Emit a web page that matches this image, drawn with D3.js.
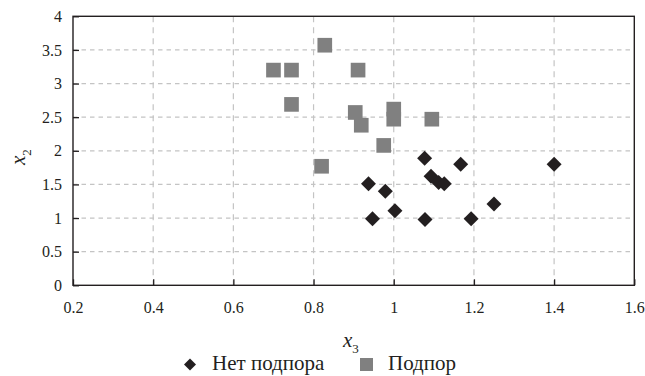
<!DOCTYPE html>
<html>
<head>
<meta charset="utf-8">
<script src="https://cdn.jsdelivr.net/npm/d3@7"></script>
</head>
<body style="margin:0">
<script>
var width = 645;
var height = 376;
var diamondColor = '#231f20';
var squareColor = '#808080';
var gridColor = '#c4c4c4';
var serif = 'Liberation Serif';

// data
var noBackwaterX = [1.077, 1.167, 1.093, 1.112, 1.126, 0.937, 0.979, 0.947, 1.003, 1.078, 1.193, 1.25, 1.4];
var noBackwaterY = [1.89, 1.80, 1.62, 1.53, 1.51, 1.51, 1.40, 0.99, 1.11, 0.98, 0.99, 1.21, 1.80];
var backwaterX = [0.828, 0.70, 0.745, 0.911, 0.745, 0.904, 0.919, 1.0, 1.0, 0.975, 0.82, 1.095];
var backwaterY = [3.57, 3.20, 3.20, 3.20, 2.69, 2.57, 2.38, 2.62, 2.47, 2.08, 1.77, 2.47];
var xTicks = [0.2, 0.4, 0.6, 0.8, 1, 1.2, 1.4, 1.6];
var yTicks = [0, 0.5, 1, 1.5, 2, 2.5, 3, 3.5, 4];
var seriesNames = ['Нет подпора', 'Подпор'];

var noBackwater = noBackwaterX.map((x, i) => ({ x: x, y: noBackwaterY[i] }));
var backwater = backwaterX.map((x, i) => ({ x: x, y: backwaterY[i] }));

var svg = d3.select('body').append('svg')
      .attr('width', width)
      .attr('height', height)

var xScale = d3.scaleLinear()
      .domain([0.2, 1.6])
      .range([73, 634.3])

var yScale = d3.scaleLinear()
      .domain([0, 4])
      .range([285.3, 16.3])

// dashed grid
svg.append('g')
      .selectAll('line')
      .data(xTicks.slice(1, -1))
      .enter()
      .append('line')
            .attr('x1', d => xScale(d))
            .attr('x2', d => xScale(d))
            .attr('y1', yScale(4))
            .attr('y2', yScale(0))
            .style('stroke', gridColor)
            .style('stroke-width', 1.2)
            .style('stroke-dasharray', '6,5')

svg.append('g')
      .selectAll('line')
      .data(yTicks.slice(1, -1))
      .enter()
      .append('line')
            .attr('x1', xScale(0.2))
            .attr('x2', xScale(1.6))
            .attr('y1', d => yScale(d))
            .attr('y2', d => yScale(d))
            .style('stroke', gridColor)
            .style('stroke-width', 1.2)
            .style('stroke-dasharray', '4.5,4')

// axes with inward ticks
var xAxis = d3.axisTop(xScale)
      .tickValues(xTicks)
      .tickSize(6)
      .tickFormat(d3.format('~g'))

var yAxis = d3.axisRight(yScale)
      .tickValues(yTicks)
      .tickSize(6)
      .tickFormat(d3.format('~g'))

var xAxisGroup = svg.append('g')
      .attr('transform', 'translate(0,' + yScale(0) + ')')
      .call(xAxis)
xAxisGroup.select('.domain').remove()
xAxisGroup.selectAll('line').style('stroke', diamondColor).style('stroke-width', 1.3)
xAxisGroup.selectAll('text')
      .attr('y', 28)
      .attr('font-family', serif)
      .attr('font-size', 16)
      .attr('fill', diamondColor)

var yAxisGroup = svg.append('g')
      .attr('transform', 'translate(' + xScale(0.2) + ',0)')
      .call(yAxis)
yAxisGroup.select('.domain').remove()
yAxisGroup.selectAll('line').style('stroke', diamondColor).style('stroke-width', 1.3)
yAxisGroup.selectAll('text')
      .attr('x', -11)
      .attr('dy', '0.32em')
      .attr('text-anchor', 'end')
      .attr('font-family', serif)
      .attr('font-size', 16)
      .attr('fill', diamondColor)

// frame
svg.append('rect')
      .attr('x', xScale(0.2))
      .attr('y', yScale(4))
      .attr('width', xScale(1.6) - xScale(0.2))
      .attr('height', yScale(0) - yScale(4))
      .style('fill', 'none')
      .style('stroke', diamondColor)
      .style('stroke-width', 1.4)

// points
var squareSymbol = d3.symbol().type(d3.symbolSquare).size(215);
var diamondSymbol = d3.symbol().type(d3.symbolSquare).size(112);

svg.append('g')
      .selectAll('path')
      .data(backwater)
      .enter()
      .append('path')
            .attr('d', squareSymbol)
            .attr('transform', d => 'translate(' + xScale(d.x) + ',' + yScale(d.y) + ')')
            .style('fill', squareColor)

svg.append('g')
      .selectAll('path')
      .data(noBackwater)
      .enter()
      .append('path')
            .attr('d', diamondSymbol)
            .attr('transform', d => 'translate(' + xScale(d.x) + ',' + yScale(d.y) + ') rotate(45)')
            .style('fill', diamondColor)

// axis titles
var xLabel = svg.append('text')
      .attr('x', 343)
      .attr('y', 347)
      .attr('font-family', serif)
      .attr('font-size', 21)
      .attr('fill', diamondColor)
xLabel.append('tspan').attr('font-style', 'italic').text('x')
xLabel.append('tspan').attr('dy', 6).attr('font-size', 13).text('3')

var yLabel = svg.append('text')
      .attr('transform', 'translate(25,165) rotate(-90)')
      .attr('font-family', serif)
      .attr('font-size', 21)
      .attr('fill', diamondColor)
yLabel.append('tspan').attr('font-style', 'italic').text('x')
yLabel.append('tspan').attr('dy', 6).attr('font-size', 13).text('2')

// legend
var key = svg.append('g')
key.append('path')
      .attr('d', d3.symbol().type(d3.symbolSquare).size(72))
      .attr('transform', 'translate(190,364.5) rotate(45)')
      .style('fill', diamondColor)
key.append('text')
      .attr('x', 212)
      .attr('y', 370)
      .attr('font-family', serif)
      .attr('font-size', 21)
      .attr('fill', diamondColor)
      .text(seriesNames[0])
key.append('path')
      .attr('d', d3.symbol().type(d3.symbolSquare).size(170))
      .attr('transform', 'translate(366.5,364.5)')
      .style('fill', squareColor)
key.append('text')
      .attr('x', 388)
      .attr('y', 370)
      .attr('font-family', serif)
      .attr('font-size', 21)
      .attr('fill', diamondColor)
      .text(seriesNames[1])
</script>
</body>
</html>
